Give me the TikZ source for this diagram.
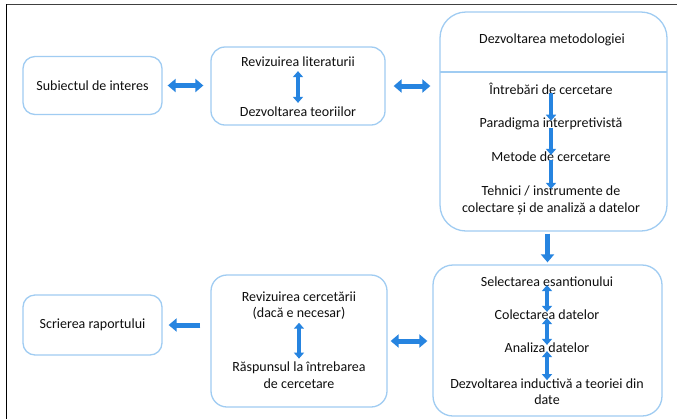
\documentclass[tikz,border=0pt]{standalone}
\usepackage{fontspec}
\setmainfont{Carlito}
\usetikzlibrary{arrows.meta}
\definecolor{boxblue}{RGB}{160,204,242}
\definecolor{arrblue}{RGB}{38,132,224}
\definecolor{txt}{RGB}{15,15,15}
\tikzset{
  box/.style={draw=boxblue, line width=1.3bp, fill=white, inner sep=0pt},
  lbl/.style={inner sep=0pt, text=txt, font=\fontsize{14bp}{16.5bp}\selectfont, align=center},
  bigarr/.style={draw=arrblue, line width=5bp, -{Triangle[width=13bp,length=8bp]}},
  bigdarr/.style={draw=arrblue, line width=5bp, {Triangle[width=13bp,length=8bp]}-{Triangle[width=13bp,length=8bp]}},
  smarr/.style={draw=arrblue, line width=4.5bp, -{Triangle[width=10bp,length=6bp]}},
  smdarr/.style={draw=arrblue, line width=4.5bp, {Triangle[width=10bp,length=6bp]}-{Triangle[width=10bp,length=6bp]}},
}
\begin{document}
\begin{tikzpicture}[x=1bp,y=-1bp]
\useasboundingbox (0,0) rectangle (677,419);
\fill[white] (0,0) rectangle (677,419);
% frame
\draw[line width=1.5bp, color=black!75] (6,4.5) -- (677,4.5);
\draw[line width=1.5bp, color=black] (6.5,4) -- (6.5,419);
% boxes
\node[box, rounded corners=12bp, minimum width=139bp, minimum height=58bp] (A) at (92.5,85.5) {};
\node[box, rounded corners=14bp, minimum width=174bp, minimum height=78bp] (B) at (298,86) {};
\node[box, rounded corners=26bp, minimum width=227bp, minimum height=219bp] (C) at (553.5,121.5) {};
\node[box, rounded corners=20bp, minimum width=229bp, minimum height=151bp] (D) at (547.5,340.5) {};
\node[box, rounded corners=16bp, minimum width=176bp, minimum height=132bp] (E) at (299,341) {};
\node[box, rounded corners=12bp, minimum width=139bp, minimum height=60bp] (F) at (92.5,325) {};
% divider in C
\coordinate (cl) at (440,72);
\coordinate (cr) at (667,72);
\draw[draw=boxblue, line width=1.3bp] (cl) -- (cr);
% texts
\node[lbl] (a1) at (92.5,86) {Subiectul de interes};
\node[lbl] (b1) at (298,62) {Revizuirea literaturii};
\node[lbl] (b2) at (298,112) {Dezvoltarea teoriilor};
\node[lbl] (c0) at (552,40) {Dezvoltarea metodologiei};
\node[lbl] (c1) at (551,89) {Întrebări de cercetare};
\node[lbl] (c2) at (551,124) {Paradigma interpretivistă};
\node[lbl] (c3) at (551,157) {Metode de cercetare};
\node[lbl] (c4) at (551,200.5) {Tehnici / instrumente de\\colectare și de analiză a datelor};
\node[lbl] (d1) at (547,282) {Selectarea esantionului};
\node[lbl] (d2) at (547,315) {Colectarea datelor};
\node[lbl] (d3) at (547,348) {Analiza datelor};
\node[lbl] (d4) at (547,391.5) {Dezvoltarea inductivă a teoriei din\\date};
\node[lbl] (e1) at (299,305.5) {Revizuirea cercetării\\(dacă e necesar)};
\node[lbl] (e2) at (299,375) {Răspunsul la întrebarea\\de cercetare};
\node[lbl] (f1) at (92.5,325) {Scrierea raportului};
% connectors between boxes
\draw[bigdarr, shorten <=5bp, shorten >=7bp] (A.east) -- (A.east -| B.west);
\draw[bigdarr, shorten <=8bp, shorten >=9bp] (B.east) -- (B.east -| C.west);
\draw[bigarr, shorten <=2bp, shorten >=2bp] (C.south -| D.north) -- (D.north);
\draw[bigdarr, shorten <=3bp, shorten >=5bp] (E.east) -- (E.east -| D.west);
\draw[bigarr, shorten <=10bp, shorten >=6bp] (E.west |- F.east) -- (F.east);
% inner connectors
\draw[smdarr, shorten <=4bp, shorten >=4bp] (b1) -- (b2);
\draw[smarr, shorten <=-2bp, shorten >=-3bp] (c1) -- (c2);
\draw[smarr, shorten <=-2bp, shorten >=-3bp] (c2) -- (c3);
\draw[smarr, shorten <=-2bp, shorten >=-3bp] (c3) -- (c4);
\draw[smdarr, shorten <=-2bp, shorten >=-2bp] (d1) -- (d2);
\draw[smdarr, shorten <=-2bp, shorten >=-2bp] (d2) -- (d3);
\draw[smdarr, shorten <=-2bp, shorten >=-2bp] (d3) -- (d4);
\draw[smdarr, shorten <=3bp, shorten >=3bp] (e1) -- (e2);
\end{tikzpicture}
\end{document}
